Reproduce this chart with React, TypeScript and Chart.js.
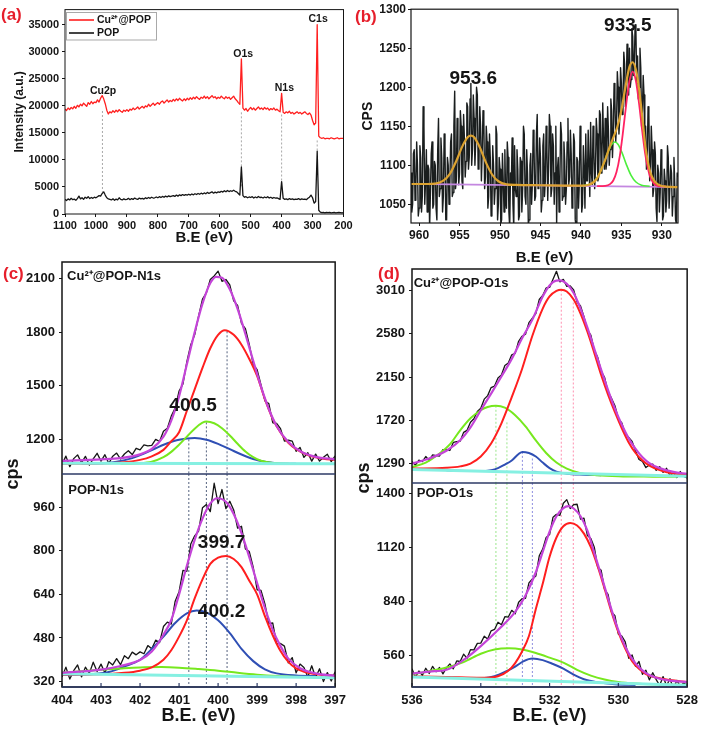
import React, { useEffect, useRef } from 'react';
import { Chart, registerables } from 'chart.js';

Chart.register(...registerables);

const FONT = '"Liberation Sans", Arial, Helvetica, sans-serif';
const INK = '#151515';
const LABEL_RED = '#e61e2b';
const RED = '#ff1f1f';
const PURPLE = '#c444d8';
const GREEN = '#77e81e';
const BLUE = '#2f4fb4';
const CYAN = '#86f0e2';
const NAVY = '#2d3a66';

function grid(a: number, b: number, step: number): number[] {
  const n = Math.round((b - a) / step);
  const out: number[] = [];
  for (let i = 0; i <= n; i++) out.push(Math.round((a + i * step) * 100) / 100);
  return out;
}

// ---------------- Panel (a): survey spectra ----------------
const A_E = grid(1100, 200, -5);
const A_RED = [
  19400, 19150, 19600, 19300, 19700, 19450, 19900, 19550, 20100, 19800,
  20300, 20000, 20500, 20200, 19900, 20600, 20300, 20800, 20400, 20700,
  20600, 21100, 20700, 21400, 21900, 21300, 20400, 19200, 18500, 18900,
  18700, 19100, 18800, 19200, 18900, 19300, 19000, 18800, 19200, 19000,
  19300, 19000, 19400, 19200, 19600, 19300, 19500, 19800, 19400, 19700,
  19900, 19600, 20000, 19800, 20300, 19900, 20200, 20500, 20100, 20400,
  20600, 20300, 20700, 20900, 20500, 20800, 21100, 20700, 21000, 20800,
  21200, 20900, 21300, 21000, 21400, 21100, 20900, 21300, 21000, 21400,
  21100, 21500, 21200, 21600, 21300, 21700, 21400, 21200, 21600, 21400,
  21800, 21400, 21700, 21300, 21600, 21900, 21500, 21700, 21300, 21600,
  21400, 21800, 21500, 21300, 21700, 21400, 21600, 21200, 21500, 21800,
  21300, 21000, 20600, 20300, 28700, 19600, 19200, 19500, 19000, 19400,
  19700, 19300, 19600, 19200, 19500, 19800, 19400, 19600, 19300, 19700,
  19400, 19600, 19200, 19500, 19300, 19600, 19200, 19400, 19100, 18900,
  22300, 18800, 18600, 18900, 18700, 19000, 18600, 18800, 18500, 18700,
  18900, 18600, 18800, 18500, 18700, 18900, 18600, 18400, 18700, 18300,
  17300, 16500, 16800, 35000, 14400, 14100, 14000, 14100, 13900, 14000,
  14000, 13900, 14100, 14000, 13900, 14000, 14100, 13900, 14000, 14000,
  14000,
];
const A_BLACK = [
  2700, 2500, 2800, 2600, 2900, 2650, 2750, 2550, 2850, 3300,
  2800, 3000, 2700, 3100, 2900, 3200, 2850, 3050, 2900, 3100,
  3000, 3200, 3400, 3300, 3800, 4100, 3500, 3000, 2800, 2700,
  2600, 2800, 2550, 2750, 2600, 3000, 2700, 2600, 2800, 2650,
  2700, 2900, 2650, 2850, 2700, 2950, 2800, 2700, 2950, 2800,
  2900, 2750, 3000, 2850, 3050, 2900, 3100, 2950, 3000, 3150,
  3000, 3200, 3050, 3250, 3100, 3300, 3150, 3350, 3200, 3300,
  3400, 3250, 3500, 3300, 3550, 3400, 3600, 3450, 3600, 3500,
  3650, 3500, 3700, 3550, 3750, 3600, 3800, 3650, 3850, 3700,
  3900, 3750, 4000, 3800, 3950, 4100, 3850, 4050, 3900, 4100,
  4000, 4200, 4050, 4300, 4100, 4350, 4150, 4300, 4200, 4400,
  4200, 4100, 3800, 3500, 8700, 3400, 3100, 3200, 3000, 3150,
  3050, 3200, 2950, 3150, 3000, 3250, 3050, 3100, 2950, 3150,
  3000, 3200, 2950, 3100, 2900, 3050, 2950, 3000, 2850, 2700,
  6000, 2900, 2700, 2800, 2650, 2850, 2700, 2800, 2650, 2750,
  2700, 2850, 2650, 2800, 2700, 2750, 2650, 2900, 3100, 3500,
  3000, 2000, 2300, 11600, 700, 350, 250, 300, 200, 300,
  250, 300, 200, 250, 300, 200, 250, 300, 250, 200,
  250,
];
const A_XTICKS = [1100, 1000, 900, 800, 700, 600, 500, 400, 300, 200];
const A_YTICKS = [0, 5000, 10000, 15000, 20000, 25000, 30000, 35000];
const A_X_RANGE = [200, 1100];
const A_Y_RANGE = [0, 37800];
const A_GUIDE_E = [979, 530, 400, 285];
const A_GUIDE_TOP = [19050, 18800, 18400, 13600];
const A_GUIDE_BOT = [4100, 5000, 4400, 11400];
const A_PEAK_NAMES = ['Cu2p', 'O1s', 'N1s', 'C1s'];
const A_PEAK_NAME_E = [977, 524, 391, 282];
const A_PEAK_NAME_Y = [22700, 29600, 23200, 36100];

// ---------------- Panel (b): Cu 2p ----------------
const B_E = grid(961, 928, -0.1);
const B_CPS = [
  1090, 1040, 1050, 1115, 1120, 1055, 1070, 1130, 1100, 1035,
  1045, 1125, 1110, 1040, 1060, 1175, 1150, 1050, 1080, 1120,
  1040, 1100, 1095, 1020, 1065, 1115, 1130, 1045, 1050, 1105,
  1100, 1045, 1030, 1120, 1160, 1060, 1070, 1135, 1110, 1040,
  1060, 1140, 1125, 1030, 1030, 1110, 1100, 1050, 1075, 1130,
  1140, 1060, 1065, 1150, 1195, 1070, 1080, 1160, 1120, 1075,
  1090, 1170, 1150, 1080, 1070, 1165, 1135, 1085, 1105, 1180,
  1175, 1095, 1110, 1185, 1205, 1100, 1120, 1190, 1160, 1100,
  1130, 1200, 1190, 1095, 1100, 1175, 1150, 1080, 1115, 1170,
  1160, 1070, 1085, 1150, 1130, 1045, 1060, 1140, 1110, 1035,
  1040, 1125, 1100, 1050, 1070, 1150, 1140, 1030, 1050, 1110,
  1095, 1025, 1030, 1115, 1080, 1040, 1120, 1060, 1045, 1130,
  1110, 1040, 1020, 1090, 1075, 1135, 1050, 1020, 1125, 1070,
  1060, 1120, 1095, 1030, 1035, 1110, 1105, 1040, 1070, 1150,
  1140, 1060, 1050, 1120, 1090, 1025, 1030, 1100, 1115, 1050,
  1075, 1145, 1130, 1055, 1060, 1140, 1165, 1070, 1085, 1135,
  1110, 1040, 1055, 1125, 1140, 1060, 1080, 1150, 1120, 1055,
  1095, 1165, 1150, 1060, 1070, 1140, 1125, 1050, 1090, 1150,
  1025, 1095, 1110, 1040, 1080, 1155, 1140, 1055, 1060, 1130,
  1105, 1050, 1070, 1130, 1160, 1075, 1085, 1145, 1115, 1045,
  1060, 1140, 1130, 1030, 1022, 1110, 1105, 1045, 1075, 1150,
  1120, 1040, 1050, 1125, 1095, 1045, 1140, 1080, 1080, 1145,
  1100, 1060, 1155, 1090, 1075, 1150, 1120, 1070, 1095, 1160,
  1140, 1080, 1085, 1170, 1165, 1090, 1110, 1180, 1130, 1095,
  1160, 1095, 1105, 1175, 1145, 1100, 1120, 1185, 1170, 1110,
  1140, 1205, 1185, 1130, 1150, 1220, 1200, 1140, 1160, 1225,
  1205, 1165, 1180, 1245, 1230, 1175, 1195, 1255, 1225, 1190,
  1250, 1200, 1210, 1275, 1265, 1215, 1230, 1280, 1270, 1205,
  1240, 1185, 1200, 1250, 1225, 1150, 1170, 1215, 1190, 1120,
  1150, 1095, 1110, 1175, 1165, 1080, 1095, 1150, 1120, 1060,
  1070, 1130, 1115, 1045, 1028, 1100, 1090, 1040, 1065, 1120,
  1100, 1030, 1035, 1095, 1080, 1040, 1055, 1125, 1110, 1045,
  1045, 1100, 1090, 1035, 1060, 1110, 1075, 1030, 1025, 1090,
  1085,
];
const B_ENV_E = [961, 959, 958, 957, 956.2, 955.4, 954.6, 954, 953.6, 953.2, 952.6, 951.8, 951, 950.2, 949.2, 948, 945, 942, 940, 939, 938, 937, 936.5, 936, 935.5, 935, 934.5, 934, 933.6, 933.2, 932.8, 932.4, 932, 931.5, 931, 930.4, 929.5, 928];
const B_ENV = [1076, 1076, 1076.5, 1080.2, 1089, 1105.5, 1125.5, 1136, 1138, 1136, 1125.3, 1105, 1088.5, 1079.5, 1075.6, 1074.8, 1074.4, 1074, 1073.8, 1075, 1083.3, 1107, 1122, 1135.5, 1149, 1170.5, 1200, 1226, 1232, 1222, 1197, 1160, 1122, 1094, 1081, 1075, 1072.5, 1072];
const B_RED_E = [938, 937, 936.4, 936, 935.6, 935.2, 934.8, 934.4, 934, 933.6, 933.2, 932.8, 932.4, 932, 931.5, 931, 930.4, 929.5];
const B_RED = [1073.3, 1073.6, 1075.8, 1080.5, 1091.3, 1111.5, 1142.4, 1178, 1208, 1220, 1208, 1178, 1142, 1111, 1087, 1076.8, 1073.3, 1072.8];
const B_GREEN_E = [940, 939, 938.4, 937.8, 937.2, 936.7, 936.2, 935.8, 935.4, 934.9, 934.4, 933.8, 933.2, 932.5, 931.5];
const B_GREEN = [1073.8, 1075.3, 1078.9, 1087.4, 1101.8, 1115.8, 1126.7, 1129.8, 1126.6, 1115.5, 1101.5, 1087, 1078.5, 1074.4, 1073.1];
const B_BASE_E = [961, 928];
const B_BASE = [1076.2, 1072];
const B_XTICKS = [960, 955, 950, 945, 940, 935, 930];
const B_YTICKS = [1050, 1100, 1150, 1200, 1250, 1300];
const B_X_RANGE = [928, 961];
const B_Y_RANGE = [1026, 1300];
const B_PEAK_NAMES = ['953.6', '933.5'];
const B_PEAK_NAME_E = [953.3, 934.2];
const B_PEAK_NAME_Y = [1211, 1279];

// ---------------- Panel (c): N 1s ----------------
const C_E = grid(404, 397, -0.1);
const C1_CPS = [
  1060, 1106, 1047, 1092, 1113, 1069, 1105, 1056, 1091, 1122,
  1078, 1114, 1065, 1106, 1123, 1090, 1118, 1136, 1115, 1150,
  1141, 1169, 1164, 1166, 1200, 1188, 1245, 1262, 1330, 1375,
  1470, 1510, 1635, 1730, 1785, 1890, 1985, 2020, 2095, 2115,
  2142, 2085, 2095, 2065, 1975, 1950, 1850, 1820, 1730, 1620,
  1590, 1505, 1415, 1400, 1293, 1290, 1260, 1190, 1195, 1190,
  1133, 1155, 1099, 1125, 1078, 1117, 1078, 1100, 1117, 1075,
  1108,
];
const C1_ENV_E = [404, 403, 402.5, 402, 401.7, 401.4, 401.2, 401, 400.8, 400.6, 400.4, 400.2, 400.05, 399.9, 399.7, 399.5, 399.3, 399.1, 398.9, 398.7, 398.5, 398.2, 397.9, 397.5, 397];
const C1_ENV = [1080, 1088, 1095, 1116, 1146, 1215, 1305, 1440, 1620, 1800, 1960, 2075, 2110, 2105, 2040, 1930, 1790, 1640, 1495, 1370, 1275, 1185, 1135, 1102, 1088];
const C1_RED_E = [404, 403, 402.5, 402, 401.7, 401.4, 401.2, 401, 400.8, 400.6, 400.4, 400.2, 400, 399.83, 399.6, 399.4, 399.2, 399, 398.8, 398.6, 398.4, 398.2, 398, 397.7, 397.3, 397];
const C1_RED = [1063, 1065, 1070, 1085, 1105, 1141, 1190, 1240, 1360, 1480, 1600, 1710, 1785, 1811, 1785, 1730, 1650, 1555, 1425, 1315, 1238, 1180, 1145, 1112, 1092, 1086];
const C1_GREEN_E = [402.5, 402, 401.7, 401.4, 401.2, 401, 400.8, 400.6, 400.4, 400.3, 400.1, 399.9, 399.7, 399.5, 399.3, 399.1, 398.9, 398.6, 398.2];
const C1_GREEN = [1063, 1066, 1075, 1100, 1130, 1170, 1215, 1260, 1293, 1300, 1290, 1262, 1222, 1175, 1132, 1100, 1080, 1067, 1063];
const C1_BLUE_E = [403.5, 403, 402.6, 402.2, 401.9, 401.6, 401.3, 401, 400.6, 400.3, 400, 399.7, 399.4, 399.1, 398.8, 398.5, 398];
const C1_BLUE = [1063, 1066, 1075, 1095, 1120, 1150, 1178, 1198, 1207, 1198, 1175, 1145, 1115, 1090, 1074, 1066, 1063];
const C1_BASE_E = [404, 397];
const C1_BASE = [1066, 1063];

const C2_CPS = [
  337, 373, 329, 360, 381, 337, 373, 350, 391, 357,
  384, 351, 393, 381, 404, 382, 415, 404, 428, 418,
  429, 422, 452, 440, 472, 463, 522, 538, 531, 615,
  650, 728, 725, 825, 855, 872, 958, 970, 944, 1048,
  973, 1025, 955, 982, 950, 883, 890, 807, 797, 740,
  657, 655, 605, 533, 535, 458, 460, 450, 389, 408,
  352, 384, 372, 337, 378, 335, 367, 320, 353, 322,
  356,
];
const C2_ENV_E = [404, 403, 402.5, 402, 401.7, 401.4, 401.2, 401, 400.8, 400.6, 400.4, 400.2, 400.02, 399.8, 399.6, 399.4, 399.2, 399, 398.8, 398.6, 398.4, 398.2, 397.9, 397.5, 397];
const C2_ENV = [352, 364, 377, 399, 430, 492, 546, 640, 745, 840, 918, 974, 993, 980, 935, 865, 777, 682, 590, 510, 450, 404, 369, 350, 341];
const C2_RED_E = [404, 403, 402.4, 402, 401.7, 401.4, 401.2, 401, 400.8, 400.6, 400.4, 400.2, 400, 399.8, 399.6, 399.4, 399.2, 399, 398.8, 398.6, 398.4, 398.2, 398, 397.7, 397.3, 397];
const C2_RED = [346, 347, 352, 360, 372, 400, 435, 485, 545, 625, 695, 752, 775, 781, 770, 740, 690, 640, 560, 490, 432, 392, 368, 352, 344, 341];
const C2_BLUE_E = [404, 403.3, 402.8, 402.4, 402, 401.7, 401.4, 401.1, 400.8, 400.55, 400.3, 400, 399.7, 399.4, 399.1, 398.8, 398.5, 398, 397.5];
const C2_BLUE = [345, 347, 355, 375, 400, 440, 485, 535, 570, 581, 574, 545, 498, 440, 395, 365, 350, 342, 340];
const C2_GREEN_E = [404, 403.5, 403, 402.5, 402, 401.45, 401, 400.5, 400, 399.5, 399, 398.5, 398, 397.5, 397];
const C2_GREEN = [352, 358, 363, 368, 372, 373, 371, 366, 360, 352, 345, 340, 337, 336, 335];
const C2_BASE_E = [404, 397];
const C2_BASE = [349, 334];

const C_XTICKS = [404, 403, 402, 401, 400, 399, 398, 397];
const C1_YTICKS = [1200, 1500, 1800, 2100];
const C2_YTICKS = [320, 480, 640, 800, 960];
const C_X_RANGE = [397, 404];
const C1_Y_RANGE = [1006, 2193];
const C2_Y_RANGE = [300, 1082];
const C_GUIDE_E = [400.75, 400.3, 399.77];
const C1_GUIDE_TOP = [1200, 1295, 1805];

// ---------------- Panel (d): O 1s ----------------
const D_E = grid(536, 528, -0.1);
const D1_CPS = [
  1310, 1275, 1325, 1310, 1360, 1321, 1377, 1370, 1365, 1428,
  1428, 1420, 1500, 1507, 1512, 1600, 1620, 1700, 1735, 1807,
  1840, 1930, 1965, 2045, 2060, 2140, 2170, 2265, 2290, 2370,
  2385, 2505, 2555, 2575, 2690, 2735, 2780, 2920, 2960, 3035,
  3040, 3120, 3200, 3095, 3120, 3050, 3055, 3015, 2895, 2855,
  2750, 2615, 2565, 2415, 2345, 2210, 2145, 2000, 1940, 1865,
  1735, 1695, 1580, 1550, 1510, 1415, 1330, 1312, 1250, 1275,
  1285, 1223, 1260, 1203, 1243, 1169, 1197, 1151, 1211, 1162,
  1148,
];
const D1_ENV_E = [536, 535.5, 535, 534.6, 534.3, 534, 533.7, 533.4, 533.1, 532.8, 532.5, 532.2, 532, 531.8, 531.7, 531.5, 531.3, 531.1, 530.9, 530.7, 530.5, 530.3, 530.1, 529.9, 529.7, 529.5, 529.3, 529.1, 528.8, 528.4, 528];
const D1_ENV = [1290, 1341, 1418, 1522, 1650, 1820, 1985, 2155, 2330, 2535, 2720, 2950, 3060, 3108, 3110, 3075, 2985, 2830, 2640, 2430, 2220, 2020, 1835, 1675, 1540, 1435, 1352, 1295, 1245, 1207, 1188];
const D1_RED_E = [536, 535, 534.6, 534.3, 534, 533.7, 533.4, 533.1, 532.8, 532.5, 532.2, 532, 531.8, 531.66, 531.5, 531.3, 531.1, 530.9, 530.7, 530.5, 530.3, 530.1, 529.9, 529.7, 529.5, 529.3, 529.1, 528.8, 528.4, 528];
const D1_RED = [1240, 1248, 1262, 1290, 1360, 1490, 1690, 1950, 2230, 2560, 2830, 2950, 3005, 3017, 3000, 2920, 2780, 2600, 2390, 2170, 1975, 1800, 1640, 1500, 1395, 1320, 1270, 1225, 1190, 1173];
const D1_GREEN_E = [536, 535.6, 535.2, 534.9, 534.6, 534.3, 534, 533.8, 533.56, 533.3, 533, 532.7, 532.4, 532.1, 531.8, 531.5, 531.1, 530.6, 530, 529, 528.3];
const D1_GREEN = [1256, 1300, 1390, 1480, 1620, 1740, 1820, 1852, 1864, 1845, 1770, 1660, 1520, 1395, 1300, 1240, 1195, 1175, 1165, 1160, 1158];
const D1_BLUE_E = [535, 534, 533.7, 533.5, 533.3, 533.1, 532.9, 532.79, 532.6, 532.4, 532.2, 532, 531.8, 531.5, 531, 530.5];
const D1_BLUE = [1223, 1215, 1225, 1245, 1280, 1320, 1385, 1406, 1395, 1360, 1300, 1245, 1210, 1190, 1180, 1175];
const D1_BASE_E = [536, 528];
const D1_BASE = [1230, 1163];

const D2_CPS = [
  490, 447, 479, 456, 493, 466, 503, 475, 497, 464,
  495, 516, 490, 531, 528, 566, 545, 589, 588, 622,
  623, 659, 645, 687, 694, 731, 718, 760, 758, 793,
  775, 835, 853, 855, 935, 955, 970, 1075, 1110, 1170,
  1185, 1275, 1290, 1285, 1347, 1366, 1320, 1340, 1342, 1265,
  1270, 1180, 1165, 1120, 1015, 1000, 900, 875, 785, 765,
  670, 660, 630, 545, 562, 503, 528, 461, 483, 433,
  470, 434, 404, 450, 402, 439, 387, 430, 399, 418,
  402,
];
const D2_ENV_E = [536, 535.5, 535, 534.5, 534, 533.5, 533, 532.7, 532.4, 532.2, 532, 531.8, 531.6, 531.45, 531.3, 531.1, 530.9, 530.7, 530.5, 530.3, 530.1, 529.9, 529.7, 529.5, 529.2, 528.9, 528.5, 528];
const D2_ENV = [465, 476, 485, 536, 608, 691, 785, 870, 990, 1095, 1200, 1280, 1322, 1332, 1320, 1280, 1205, 1090, 975, 855, 740, 645, 570, 518, 468, 444, 429, 422];
const D2_RED_E = [536, 535, 534, 533.5, 533.2, 533, 532.8, 532.6, 532.4, 532.2, 532, 531.8, 531.6, 531.4, 531.2, 531, 530.8, 530.6, 530.4, 530.2, 530, 529.8, 529.6, 529.4, 529.2, 528.9, 528.5, 528];
const D2_RED = [451, 448, 444, 452, 480, 520, 580, 660, 800, 930, 1070, 1170, 1228, 1245, 1232, 1190, 1120, 1020, 905, 785, 680, 595, 530, 490, 463, 445, 432, 422];
const D2_GREEN_E = [536, 535.5, 535, 534.5, 534, 533.6, 533.18, 532.8, 532.4, 532, 531.6, 531.2, 530.8, 530.4, 530, 529.5, 529, 528.5, 528];
const D2_GREEN = [462, 478, 497, 525, 568, 590, 596, 590, 572, 548, 522, 485, 455, 435, 422, 414, 410, 408, 406];
const D2_BLUE_E = [535, 534.3, 533.9, 533.6, 533.3, 533, 532.75, 532.5, 532.2, 531.9, 531.6, 531.3, 531, 530.6, 530.1, 529.5];
const D2_BLUE = [445, 441, 442, 452, 474, 502, 530, 543, 535, 515, 491, 460, 436, 420, 410, 406];
const D2_BASE_E = [536, 528];
const D2_BASE = [448, 405];

const D_XTICKS = [536, 534, 532, 530, 528];
const D1_YTICKS = [1290, 1720, 2150, 2580, 3010];
const D2_YTICKS = [560, 840, 1120, 1400];
const D_X_RANGE = [528, 536];
const D1_Y_RANGE = [1097, 3223];
const D2_Y_RANGE = [396, 1452];
const D_GUIDE_GREEN_E = [533.56, 533.24];
const D1_GUIDE_GREEN_TOP = [1864, 1700];
const D_GUIDE_BLUE_E = [532.79, 532.5];
const D1_GUIDE_BLUE_TOP = [1406, 1340];
const D_GUIDE_PINK_E = [531.66, 531.31];
const D1_GUIDE_PINK_TOP = [3017, 2930];

// ---------------- helpers ----------------
function pts(xs: number[], ys: number[]) {
  return xs.map((x, i) => ({ x, y: ys[i] }));
}
function vlines(xs: number[], tops: number[] | number, bottoms: number[] | number) {
  const out: any[] = [];
  xs.forEach((x, i) => {
    const t = Array.isArray(tops) ? tops[i] : tops;
    const b = Array.isArray(bottoms) ? bottoms[i] : bottoms;
    out.push({ x, y: t }, { x, y: b }, { x, y: null });
  });
  return out;
}
function ds(data: any[], color: string, width: number, order: number, extra: any = {}) {
  return {
    data, borderColor: color, backgroundColor: color, borderWidth: width,
    pointRadius: 0, pointHoverRadius: 0, fill: false, tension: 0, order,
    borderJoinStyle: 'round', spanGaps: false, ...extra,
  };
}
const SMOOTH = { cubicInterpolationMode: 'monotone' };
const bold = (size: number) => ({ family: FONT, size, weight: 'bold' as const });
const fontStr = (size: number) => `bold ${size}px ${FONT}`;

function xAxis(o: any) {
  return {
    type: 'linear', position: 'bottom', min: o.range[0], max: o.range[1], reverse: true,
    afterBuildTicks: (s: any) => { s.ticks = o.ticks.map((v: number) => ({ value: v })); },
    afterFit: (s: any) => { s.height = o.height; },
    ticks: { font: bold(o.size), color: INK, padding: o.pad, maxRotation: 0, autoSkip: false, callback: (v: any) => String(v) },
    grid: { display: true, drawOnChartArea: false, drawTicks: o.tl > 0, tickLength: o.tl, color: INK },
    border: { display: false },
    title: { display: true, text: o.title, color: INK, font: bold(o.tsize), padding: { top: 0, bottom: o.tpad } },
  };
}
function yAxis(o: any) {
  const a: any = {
    type: 'linear', position: 'left', min: o.range[0], max: o.range[1],
    afterBuildTicks: (s: any) => { s.ticks = o.ticks.map((v: number) => ({ value: v })); },
    afterFit: (s: any) => { s.width = o.width; },
    ticks: { font: bold(o.size), color: INK, padding: o.pad, autoSkip: false, callback: (v: any) => String(v) },
    grid: { display: true, drawOnChartArea: false, drawTicks: true, tickLength: o.tl, color: INK },
    border: { display: false },
    title: o.title
      ? { display: true, text: o.title, color: INK, font: bold(o.tsize), padding: { top: o.tpad, bottom: 0 } }
      : { display: false },
  };
  if (o.stack) { a.stack = o.stack; a.stackWeight = o.stackWeight; a.weight = o.weight; }
  return a;
}

const decor = {
  id: 'decor',
  afterDraw(chart: any, _args: any, o: any) {
    const ctx = chart.ctx;
    const ca = chart.chartArea;
    ctx.save();
    for (const t of o.innerTicks || []) {
      const s = chart.scales[t.axis];
      ctx.strokeStyle = t.color; ctx.lineWidth = t.width || 1;
      for (const tk of s.ticks) {
        const p = s.getPixelForValue(tk.value);
        ctx.beginPath();
        ctx.moveTo(p, s.top); ctx.lineTo(p, s.top - t.len);
        ctx.stroke();
      }
    }
    if (o.frame) {
      ctx.strokeStyle = o.frame.color; ctx.lineWidth = o.frame.width;
      ctx.strokeRect(ca.left, ca.top, ca.right - ca.left, ca.bottom - ca.top);
    }
    for (const d of o.hlines || []) {
      const y = d.axis ? chart.scales[d.axis].bottom : ca.bottom;
      ctx.strokeStyle = d.color; ctx.lineWidth = d.width;
      ctx.beginPath(); ctx.moveTo(ca.left, y); ctx.lineTo(ca.right, y); ctx.stroke();
    }
    for (const r of o.boxes || []) {
      ctx.fillStyle = '#fff'; ctx.fillRect(r.x, r.y, r.w, r.h);
      ctx.strokeStyle = r.color; ctx.lineWidth = r.width; ctx.strokeRect(r.x, r.y, r.w, r.h);
    }
    for (const g of o.segments || []) {
      ctx.strokeStyle = g.color; ctx.lineWidth = g.width;
      ctx.beginPath(); ctx.moveTo(g.x1, g.y); ctx.lineTo(g.x2, g.y); ctx.stroke();
    }
    for (const t of o.texts || []) {
      let x = t.px, y = t.py;
      if (t.xv !== undefined) x = chart.scales[t.xAxis || 'x'].getPixelForValue(t.xv);
      if (t.yv !== undefined) y = chart.scales[t.yAxis || 'y'].getPixelForValue(t.yv);
      ctx.save();
      ctx.translate(x, y);
      if (t.rotate) ctx.rotate(t.rotate);
      ctx.font = t.font; ctx.fillStyle = t.color || INK;
      ctx.textAlign = t.align || 'center'; ctx.textBaseline = 'middle';
      ctx.fillText(t.text, 0, 0);
      ctx.restore();
    }
    ctx.restore();
  },
};

function common(padding: any, scales: any, decorOpts: any) {
  return {
    responsive: false, animation: false, events: [],
    layout: { autoPadding: false, padding },
    plugins: { legend: { display: false }, tooltip: { enabled: false }, decor: decorOpts },
    scales,
  };
}

// ---------------- chart builders ----------------
function buildA(): any {
  return {
    type: 'line',
    data: {
      datasets: [
        ds(pts(A_E, A_RED), RED, 1.3, 2),
        ds(pts(A_E, A_BLACK), INK, 1.3, 1),
        ds(vlines(A_GUIDE_E, A_GUIDE_TOP, A_GUIDE_BOT), '#a8a8a8', 1, 5, { borderDash: [2, 2] }),
      ],
    },
    options: common(
      { left: 0, top: 8, right: 16.5, bottom: 0 },
      {
        x: xAxis({ range: A_X_RANGE, ticks: A_XTICKS, height: 35, size: 11, pad: 2, tl: 3, title: 'B.E (eV)', tsize: 15, tpad: 2 }),
        y: yAxis({ range: A_Y_RANGE, ticks: A_YTICKS, width: 65, size: 11, pad: 3, tl: 3, title: 'Intensity (a.u.)', tsize: 12, tpad: 12 }),
      },
      {
        frame: { color: INK, width: 1 },
        boxes: [{ x: 66.5, y: 12.5, w: 90, h: 27.5, color: '#a9a9a9', width: 1 }],
        segments: [
          { x1: 69, x2: 94, y: 20, color: RED, width: 1.6 },
          { x1: 69, x2: 94, y: 33, color: INK, width: 1.6 },
        ],
        texts: [
          { text: 'Cu²⁺@POP', px: 97, py: 20, align: 'left', font: fontStr(10.5) },
          { text: 'POP', px: 97, py: 33, align: 'left', font: fontStr(10.5) },
          { text: '(a)', px: 1, py: 15, align: 'left', font: fontStr(17), color: LABEL_RED },
          ...A_PEAK_NAMES.map((n, i) => ({ text: n, xv: A_PEAK_NAME_E[i], yv: A_PEAK_NAME_Y[i], font: fontStr(10.5) })),
        ],
      },
    ),
    plugins: [decor],
  };
}

function buildB(): any {
  return {
    type: 'line',
    data: {
      datasets: [
        ds(pts(B_ENV_E, B_ENV), '#dca230', 2.2, 1, SMOOTH),
        ds(pts(B_RED_E, B_RED), '#ff2262', 1.8, 2, SMOOTH),
        ds(pts(B_GREEN_E, B_GREEN), '#4cef3c', 1.6, 3, SMOOTH),
        ds(pts(B_BASE_E, B_BASE), '#c487e0', 1.6, 4),
        ds(pts(B_E, B_CPS), '#1a1e1e', 1.4, 6),
      ],
    },
    options: common(
      { left: 0, top: 7, right: 26, bottom: 0 },
      {
        x: xAxis({ range: B_X_RANGE, ticks: B_XTICKS, height: 47, size: 12, pad: 2, tl: 3, title: 'B.E (eV)', tsize: 15, tpad: 3 }),
        y: yAxis({ range: B_Y_RANGE, ticks: B_YTICKS, width: 59, size: 12, pad: 2, tl: 3, title: 'CPS', tsize: 14, tpad: 8 }),
      },
      {
        frame: { color: INK, width: 1.2 },
        texts: [
          { text: '(b)', px: 3, py: 17, align: 'left', font: fontStr(17), color: LABEL_RED },
          ...B_PEAK_NAMES.map((n, i) => ({ text: n, xv: B_PEAK_NAME_E[i], yv: B_PEAK_NAME_Y[i], font: fontStr(19) })),
        ],
      },
    ),
    plugins: [decor],
  };
}

function buildC(): any {
  const T = { yAxisID: 'yTop' };
  const Bt = { yAxisID: 'yBot' };
  return {
    type: 'line',
    data: {
      datasets: [
        ds(pts(C1_ENV_E, C1_ENV), PURPLE, 2.2, 1, { ...SMOOTH, ...T }),
        ds(pts(C1_BASE_E, C1_BASE), CYAN, 3, 2, T),
        ds(pts(C1_RED_E, C1_RED), RED, 2, 3, { ...SMOOTH, ...T }),
        ds(pts(C1_GREEN_E, C1_GREEN), GREEN, 2, 4, { ...SMOOTH, ...T }),
        ds(pts(C1_BLUE_E, C1_BLUE), BLUE, 2, 5, { ...SMOOTH, ...T }),
        ds(vlines(C_GUIDE_E, C1_GUIDE_TOP, C1_Y_RANGE[0]), '#55627f', 1, 7, { ...T, borderDash: [2, 2] }),
        ds(pts(C_E, C1_CPS), INK, 1.3, 6, T),
        ds(pts(C2_ENV_E, C2_ENV), PURPLE, 2.2, 1, { ...SMOOTH, ...Bt }),
        ds(pts(C2_BASE_E, C2_BASE), CYAN, 3, 2, Bt),
        ds(pts(C2_RED_E, C2_RED), RED, 2, 3, { ...SMOOTH, ...Bt }),
        ds(pts(C2_GREEN_E, C2_GREEN), GREEN, 2, 4, { ...SMOOTH, ...Bt }),
        ds(pts(C2_BLUE_E, C2_BLUE), BLUE, 2, 5, { ...SMOOTH, ...Bt }),
        ds(vlines(C_GUIDE_E, C2_Y_RANGE[1], C2_Y_RANGE[0]), '#55627f', 1, 7, { ...Bt, borderDash: [2, 2] }),
        ds(pts(C_E, C2_CPS), INK, 1.3, 6, Bt),
      ],
    },
    options: common(
      { left: 0, top: 14, right: 12, bottom: 0 },
      {
        x: xAxis({ range: C_X_RANGE, ticks: C_XTICKS, height: 48, size: 13, pad: 6, tl: 0, title: 'B.E. (eV)', tsize: 18, tpad: 8 }),
        yTop: yAxis({ range: C1_Y_RANGE, ticks: C1_YTICKS, width: 62, size: 13, pad: 4, tl: 3, stack: 'c', stackWeight: 212, weight: 2 }),
        yBot: yAxis({ range: C2_Y_RANGE, ticks: C2_YTICKS, width: 62, size: 13, pad: 4, tl: 3, stack: 'c', stackWeight: 213, weight: 1 }),
      },
      {
        innerTicks: [{ axis: 'x', len: 4, color: NAVY, width: 1.2 }],
        frame: { color: INK, width: 1.5 },
        hlines: [{ axis: 'yTop', color: NAVY, width: 1.5 }, { color: NAVY, width: 1.5 }],
        texts: [
          { text: '(c)', px: 3, py: 26, align: 'left', font: fontStr(17), color: LABEL_RED },
          { text: 'cps', px: 13, py: 226, rotate: -Math.PI / 2, font: fontStr(18) },
          { text: 'Cu²⁺@POP-N1s', xv: 403.87, yv: 2113, yAxis: 'yTop', align: 'left', font: fontStr(13) },
          { text: '400.5', xv: 400.64, yv: 1389, yAxis: 'yTop', font: fontStr(19) },
          { text: 'POP-N1s', xv: 403.84, yv: 1023, yAxis: 'yBot', align: 'left', font: fontStr(13) },
          { text: '399.7', xv: 399.91, yv: 831, yAxis: 'yBot', font: fontStr(19) },
          { text: '400.2', xv: 399.91, yv: 576, yAxis: 'yBot', font: fontStr(19) },
        ],
      },
    ),
    plugins: [decor],
  };
}

function buildD(): any {
  const T = { yAxisID: 'yTop' };
  const Bt = { yAxisID: 'yBot' };
  const dash = { borderDash: [2, 2] };
  return {
    type: 'line',
    data: {
      datasets: [
        ds(pts(D1_ENV_E, D1_ENV), PURPLE, 2.2, 1, { ...SMOOTH, ...T }),
        ds(pts(D1_BASE_E, D1_BASE), CYAN, 3, 2, T),
        ds(pts(D1_RED_E, D1_RED), RED, 2, 3, { ...SMOOTH, ...T }),
        ds(pts(D1_GREEN_E, D1_GREEN), GREEN, 2, 4, { ...SMOOTH, ...T }),
        ds(pts(D1_BLUE_E, D1_BLUE), BLUE, 2, 5, { ...SMOOTH, ...T }),
        ds(vlines(D_GUIDE_GREEN_E, D1_GUIDE_GREEN_TOP, D1_Y_RANGE[0]), '#9be68c', 1, 7, { ...T, ...dash }),
        ds(vlines(D_GUIDE_BLUE_E, D1_GUIDE_BLUE_TOP, D1_Y_RANGE[0]), '#8f8fe0', 1, 7, { ...T, ...dash }),
        ds(vlines(D_GUIDE_PINK_E, D1_GUIDE_PINK_TOP, D1_Y_RANGE[0]), '#ff8fb0', 1, 7, { ...T, ...dash }),
        ds(pts(D_E, D1_CPS), INK, 1.3, 6, T),
        ds(pts(D2_ENV_E, D2_ENV), PURPLE, 2.2, 1, { ...SMOOTH, ...Bt }),
        ds(pts(D2_BASE_E, D2_BASE), CYAN, 3, 2, Bt),
        ds(pts(D2_RED_E, D2_RED), RED, 2, 3, { ...SMOOTH, ...Bt }),
        ds(pts(D2_GREEN_E, D2_GREEN), GREEN, 2, 4, { ...SMOOTH, ...Bt }),
        ds(pts(D2_BLUE_E, D2_BLUE), BLUE, 2, 5, { ...SMOOTH, ...Bt }),
        ds(vlines(D_GUIDE_GREEN_E, D2_Y_RANGE[1], D2_Y_RANGE[0]), '#9be68c', 1, 7, { ...Bt, ...dash }),
        ds(vlines(D_GUIDE_BLUE_E, D2_Y_RANGE[1], D2_Y_RANGE[0]), '#8f8fe0', 1, 7, { ...Bt, ...dash }),
        ds(vlines(D_GUIDE_PINK_E, D2_Y_RANGE[1], D2_Y_RANGE[0]), '#ff8fb0', 1, 7, { ...Bt, ...dash }),
        ds(pts(D_E, D2_CPS), INK, 1.3, 6, Bt),
      ],
    },
    options: common(
      { left: 0, top: 21, right: 14, bottom: 0 },
      {
        x: xAxis({ range: D_X_RANGE, ticks: D_XTICKS, height: 48, size: 13, pad: 6, tl: 0, title: 'B.E. (eV)', tsize: 18, tpad: 8 }),
        yTop: yAxis({ range: D1_Y_RANGE, ticks: D1_YTICKS, width: 60, size: 13, pad: 4, tl: 3, stack: 'd', stackWeight: 214, weight: 2 }),
        yBot: yAxis({ range: D2_Y_RANGE, ticks: D2_YTICKS, width: 60, size: 13, pad: 4, tl: 3, stack: 'd', stackWeight: 204, weight: 1 }),
      },
      {
        innerTicks: [{ axis: 'x', len: 4, color: NAVY, width: 1.2 }],
        frame: { color: INK, width: 1.5 },
        hlines: [{ axis: 'yTop', color: NAVY, width: 1.5 }, { color: NAVY, width: 1.5 }],
        texts: [
          { text: '(d)', px: 26, py: 26, align: 'left', font: fontStr(17), color: LABEL_RED },
          { text: 'cps', px: 12, py: 230, rotate: -Math.PI / 2, font: fontStr(18) },
          { text: 'Cu²⁺@POP-O1s', xv: 535.95, yv: 3077, yAxis: 'yTop', align: 'left', font: fontStr(13) },
          { text: 'POP-O1s', xv: 535.86, yv: 1398, yAxis: 'yBot', align: 'left', font: fontStr(13) },
        ],
      },
    ),
    plugins: [decor],
  };
}

function ChartCanvas(props: { build: () => any; left: number; top: number; width: number; height: number }) {
  const ref = useRef<HTMLCanvasElement | null>(null);
  useEffect(() => {
    const chart = new Chart(ref.current as HTMLCanvasElement, props.build());
    return () => chart.destroy();
  }, []);
  return (
    <canvas
      ref={ref}
      width={props.width}
      height={props.height}
      style={{ position: 'absolute', left: props.left, top: props.top, width: props.width, height: props.height }}
    />
  );
}

export default function App() {
  return (
    <div style={{ position: 'fixed', left: 0, top: 0, width: 704, height: 735, background: '#fff', overflow: 'hidden' }}>
      <ChartCanvas build={buildA} left={0} top={0} width={360} height={249} />
      <ChartCanvas build={buildB} left={352} top={0} width={352} height={270} />
      <ChartCanvas build={buildC} left={0} top={248} width={352} height={487} />
      <ChartCanvas build={buildD} left={352} top={248} width={352} height={487} />
    </div>
  );
}
